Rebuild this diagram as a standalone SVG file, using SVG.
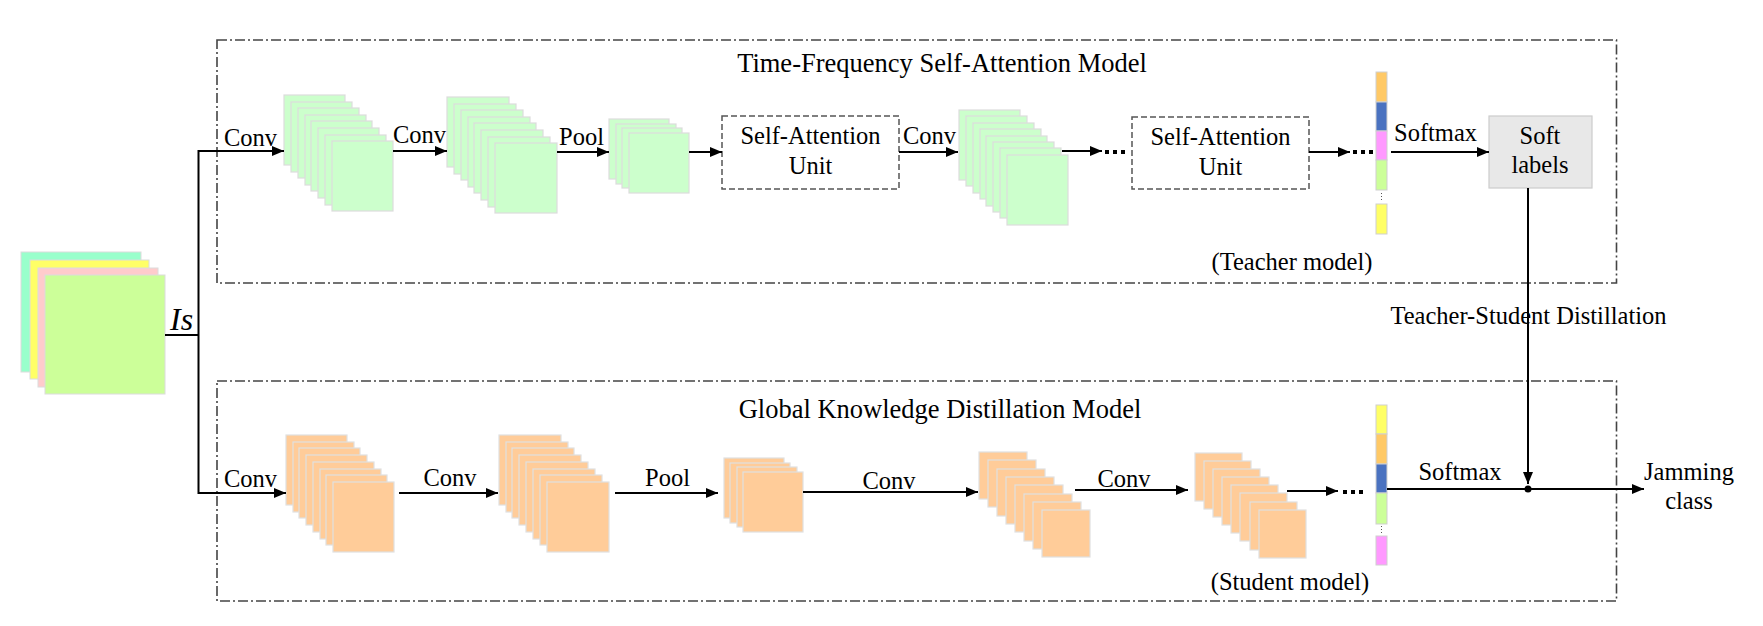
<svg xmlns="http://www.w3.org/2000/svg" width="1763" height="626" viewBox="0 0 1763 626">
<defs>
<marker id="ah" markerUnits="userSpaceOnUse" markerWidth="12" markerHeight="10" refX="12" refY="5" orient="auto"><path d="M0,0 L12,5 L0,10 z" fill="#000"/></marker>
<style>
text{font-family:"Liberation Serif","Times New Roman",serif;fill:#000}
.lb{font-size:24.5px}
.tt{font-size:26.5px}
.mid{text-anchor:middle}
.frame{fill:none;stroke:#444;stroke-width:1.6;stroke-dasharray:10,3,2,3}
.g rect{fill:#ccffcc;stroke:#dcdcdc;stroke-width:1.2}
.o rect{fill:#ffcc99;stroke:#e0e0e0;stroke-width:1.2}
.sa{fill:#fff;stroke:#555;stroke-width:1.5;stroke-dasharray:6,3}
.c{fill:none;stroke:#000;stroke-width:2}
.ca{fill:none;stroke:#000;stroke-width:2;marker-end:url(#ah)}
.seg{stroke:#cfcfcf;stroke-width:1}
</style>
</defs>
<rect width="1763" height="626" fill="#fff"/>

<g id="teacher-frame">
<rect class="frame" x="217" y="40" width="1399.5" height="243"/>
<text class="tt mid" x="942" y="72">Time-Frequency Self-Attention Model</text>
<text class="lb mid" x="1292" y="270">(Teacher model)</text>
</g>
<g id="student-frame">
<rect class="frame" x="217" y="381" width="1399.5" height="220"/>
<text class="tt mid" x="940" y="418">Global Knowledge Distillation Model</text>
<text class="lb mid" x="1290" y="590">(Student model)</text>
</g>

<g id="input">
<rect x="21" y="252" width="120" height="120" fill="#99ffcc" stroke="#dcdcdc"/>
<rect x="30" y="260" width="119" height="119" fill="#ffff66" stroke="#dcdcdc"/>
<rect x="38" y="268" width="120" height="119" fill="#ffcccc" stroke="#dcdcdc"/>
<rect x="45" y="275" width="120" height="119" fill="#ccff99" stroke="#dcdcdc"/>
<text x="170" y="330" font-size="32" font-style="italic">Is</text>
</g>

<g id="t-stack1" class="g">
<rect x="284" y="95" width="61" height="70"/><rect x="291" y="102" width="61" height="70"/><rect x="298" y="108" width="61" height="70"/><rect x="305" y="115" width="61" height="70"/><rect x="311" y="121" width="61" height="70"/><rect x="318" y="128" width="61" height="70"/><rect x="325" y="135" width="61" height="70"/><rect x="332" y="141" width="61" height="70"/>
</g>
<g id="t-stack2" class="g">
<rect x="447" y="97" width="62" height="70"/><rect x="454" y="104" width="62" height="70"/><rect x="461" y="110" width="62" height="70"/><rect x="468" y="117" width="62" height="70"/><rect x="474" y="123" width="62" height="70"/><rect x="481" y="130" width="62" height="70"/><rect x="488" y="137" width="62" height="70"/><rect x="495" y="143" width="62" height="70"/>
</g>
<g id="t-pool" class="g">
<rect x="609" y="119" width="60" height="60"/><rect x="616" y="124" width="60" height="60"/><rect x="622" y="128" width="60" height="60"/><rect x="629" y="133" width="60" height="60"/>
</g>
<g id="sa-unit1">
<rect class="sa" x="722" y="116" width="177" height="73"/>
<text class="lb mid" x="810.5" y="144">Self-Attention</text>
<text class="lb mid" x="810.5" y="174">Unit</text>
</g>
<g id="t-stack3" class="g">
<rect x="959" y="110" width="61" height="70"/><rect x="966" y="116" width="61" height="70"/><rect x="973" y="123" width="61" height="70"/><rect x="980" y="129" width="61" height="70"/><rect x="986" y="136" width="61" height="70"/><rect x="993" y="142" width="61" height="70"/><rect x="1000" y="148" width="61" height="70"/><rect x="1007" y="155" width="61" height="70"/>
</g>
<g id="sa-unit2">
<rect class="sa" x="1132" y="117" width="177" height="72"/>
<text class="lb mid" x="1220.5" y="145">Self-Attention</text>
<text class="lb mid" x="1220.5" y="175">Unit</text>
</g>
<g id="t-vector">
<rect class="seg" x="1376" y="72" width="11" height="30" fill="#ffc966"/>
<rect class="seg" x="1376" y="102" width="11" height="29" fill="#4a72c0"/>
<rect class="seg" x="1376" y="131" width="11" height="29" fill="#ff99ff"/>
<rect class="seg" x="1376" y="160" width="11" height="30" fill="#ccff99"/>
<line x1="1381.5" y1="193" x2="1381.5" y2="201" stroke="#555" stroke-width="1" stroke-dasharray="1,2"/>
<rect class="seg" x="1376" y="204" width="11" height="30" fill="#ffff66"/>
</g>
<g id="soft-labels">
<rect x="1489" y="116" width="103" height="72" fill="#e8e8e8" stroke="#cccccc" stroke-width="1.2"/>
<text class="lb mid" x="1540" y="144">Soft</text>
<text class="lb mid" x="1540" y="173">labels</text>
</g>

<g id="s-stack1" class="o">
<rect x="286" y="435" width="61" height="70"/><rect x="293" y="442" width="61" height="70"/><rect x="299" y="448" width="61" height="70"/><rect x="306" y="455" width="61" height="70"/><rect x="313" y="462" width="61" height="70"/><rect x="320" y="469" width="61" height="70"/><rect x="326" y="475" width="61" height="70"/><rect x="333" y="482" width="61" height="70"/>
</g>
<g id="s-stack2" class="o">
<rect x="499" y="435" width="62" height="70"/><rect x="506" y="442" width="62" height="70"/><rect x="512" y="448" width="62" height="70"/><rect x="519" y="455" width="62" height="70"/><rect x="526" y="462" width="62" height="70"/><rect x="533" y="469" width="62" height="70"/><rect x="540" y="475" width="62" height="70"/><rect x="547" y="482" width="62" height="70"/>
</g>
<g id="s-pool" class="o">
<rect x="724" y="458" width="60" height="60"/><rect x="730" y="463" width="60" height="60"/><rect x="737" y="467" width="60" height="60"/><rect x="743" y="472" width="60" height="60"/>
</g>
<g id="s-stack3" class="o">
<rect x="979" y="452" width="48" height="47"/><rect x="988" y="460" width="48" height="47"/><rect x="997" y="469" width="48" height="47"/><rect x="1006" y="477" width="48" height="47"/><rect x="1015" y="485" width="48" height="47"/><rect x="1024" y="494" width="48" height="47"/><rect x="1033" y="502" width="48" height="47"/><rect x="1042" y="510" width="48" height="47"/>
</g>
<g id="s-stack4" class="o">
<rect x="1195" y="453" width="47" height="48"/><rect x="1204" y="461" width="47" height="48"/><rect x="1213" y="469" width="47" height="48"/><rect x="1222" y="477" width="47" height="48"/><rect x="1231" y="485" width="47" height="48"/><rect x="1240" y="493" width="47" height="48"/><rect x="1250" y="502" width="47" height="48"/><rect x="1259" y="510" width="47" height="48"/>
</g>
<g id="s-vector">
<rect class="seg" x="1376" y="405" width="11" height="29" fill="#ffff66"/>
<rect class="seg" x="1376" y="434" width="11" height="30" fill="#ffc966"/>
<rect class="seg" x="1376" y="464" width="11" height="29" fill="#4a72c0"/>
<rect class="seg" x="1376" y="493" width="11" height="31" fill="#ccff99"/>
<line x1="1381.5" y1="526" x2="1381.5" y2="533" stroke="#555" stroke-width="1" stroke-dasharray="1,2"/>
<rect class="seg" x="1376" y="536" width="11" height="29" fill="#ff99ff"/>
</g>
<g id="output">
<text class="lb mid" x="1689" y="480">Jamming</text>
<text class="lb mid" x="1689" y="509">class</text>
</g>

<g id="connectors">
<path class="c" d="M165,335 H198.5 M198.5,150 V494"/>
<path class="ca" d="M198.5,151 H284"/>
<path class="ca" d="M198.5,493 H286"/>
<path class="ca" d="M393,151 H447"/>
<path class="ca" d="M557,152 H609"/>
<path class="ca" d="M689,152 H722"/>
<path class="ca" d="M899,152 H958"/>
<path class="ca" d="M1062,151 H1102"/>
<path class="ca" d="M1309,152 H1350"/>
<path class="ca" d="M1391,152 H1489"/>
<path class="ca" d="M399,493 H498"/>
<path class="ca" d="M615,493 H718"/>
<path class="ca" d="M803,492 H978"/>
<path class="ca" d="M1075,490 H1188"/>
<path class="ca" d="M1287,491 H1338"/>
<path class="ca" d="M1528,188 V484"/>
<path class="c" d="M1387,489 H1528"/>
<path class="ca" d="M1528,489 H1644"/>
<circle cx="1528" cy="489" r="3.5" fill="#000"/>
<g fill="#000">
<rect x="1105" y="150" width="4" height="4"/><rect x="1113" y="150" width="4" height="4"/><rect x="1121" y="150" width="4" height="4"/>
<rect x="1353" y="150" width="4" height="4"/><rect x="1361" y="150" width="4" height="4"/><rect x="1369" y="150" width="4" height="4"/>
<rect x="1343" y="490" width="4" height="4"/><rect x="1351" y="490" width="4" height="4"/><rect x="1359" y="490" width="4" height="4"/>
</g>
<text class="lb" x="224" y="146">Conv</text>
<text class="lb" x="393" y="143">Conv</text>
<text class="lb" x="559" y="145">Pool</text>
<text class="lb" x="903" y="144">Conv</text>
<text class="lb" x="1394" y="141">Softmax</text>
<text class="lb mid" x="1528.5" y="324">Teacher-Student Distillation</text>
<text class="lb" x="224" y="487">Conv</text>
<text class="lb mid" x="450" y="486">Conv</text>
<text class="lb" x="645" y="486">Pool</text>
<text class="lb mid" x="889" y="489">Conv</text>
<text class="lb mid" x="1124" y="487">Conv</text>
<text class="lb mid" x="1460" y="480">Softmax</text>
</g>
</svg>
